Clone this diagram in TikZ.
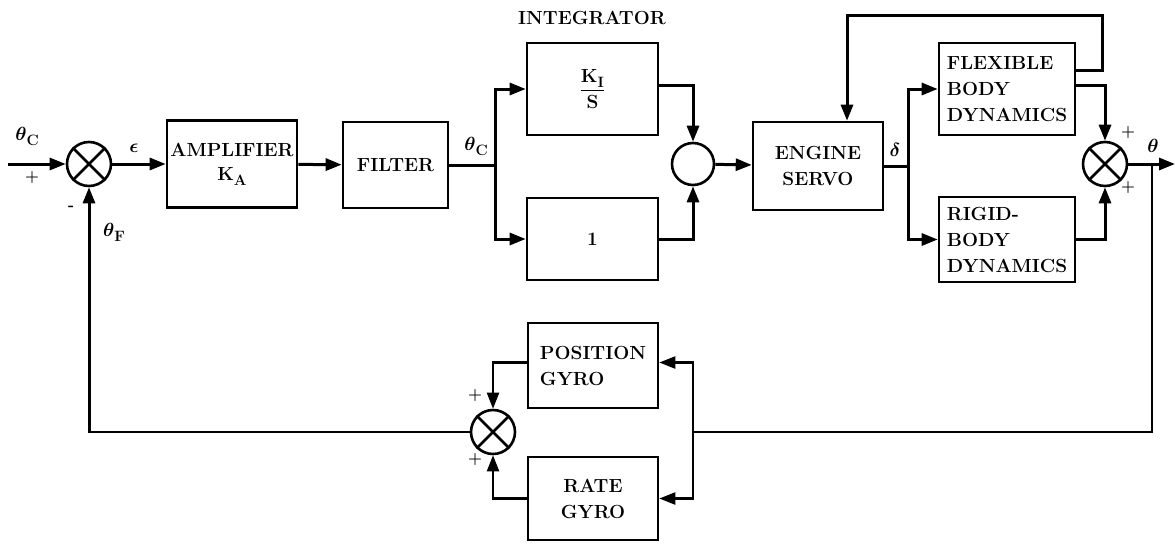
\RequirePackage{fix-cm}
\documentclass[tikz,border=0pt]{standalone}
\usepackage{amsmath}
\usepackage{bm}
\usepackage{fontspec}
\usetikzlibrary{arrows.meta}
\newcommand\blkfont{\fontsize{19}{26}\selectfont\bfseries}
\newcommand\sgnfont{\fontsize{16}{18}\selectfont\bfseries}
\newcommand\subl[1]{\raisebox{-5pt}{\fontsize{15}{15}\selectfont\bfseries #1}}
\begin{document}
\begin{tikzpicture}[x=1pt,y=-1pt,
  blk/.style={draw,line width=2.6pt,inner sep=1pt,font=\blkfont},
  sumj/.style={draw,circle,line width=2.6pt,minimum size=44pt,inner sep=0pt},
  tip/.style={-{Triangle[length=16pt,width=12pt]}},
  main/.style={line width=3pt},
  lite/.style={line width=2.2pt},
  lbl/.style={font=\blkfont,inner sep=0pt},
  sgn/.style={font=\sgnfont,inner sep=0pt}]
\useasboundingbox (0,0) rectangle (1175,544);
% blocks
\node[blk,align=center,minimum width=130pt,minimum height=87pt] (amp) at (232,164) {AMPLIFIER\\[-2pt]K\subl{A}};
\node[blk,align=center,minimum width=105pt,minimum height=86pt] (filt) at (395.5,165) {FILTER};
\node[blk,align=center,minimum width=131pt,minimum height=92pt] (ki) at (592.5,89) {$\dfrac{\text{K\subl{I}}}{\text{S}}$};
\node[blk,align=center,minimum width=131pt,minimum height=82pt] (one) at (592.5,239) {1};
\node[blk,align=center,minimum width=130pt,minimum height=88pt] (eng) at (818,166) {ENGINE\\SERVO};
\node[blk,align=left,minimum width=136pt,minimum height=92pt] (flex) at (1007,89) {FLEXIBLE\\BODY\\DYNAMICS};
\node[blk,align=left,minimum width=136pt,minimum height=85pt] (rigid) at (1007,239.5) {RIGID-\\BODY\\DYNAMICS};
\node[blk,align=left,minimum width=130pt,minimum height=85pt] (pos) at (593,365.5) {POSITION\\GYRO};
\node[blk,align=center,minimum width=130pt,minimum height=83pt] (rate) at (593,498.5) {RATE\\GYRO};
% summing junctions
\node[sumj] (s1) at (89,164) {};
\node[sumj,minimum size=42pt] (s2) at (693,164) {};
\node[sumj] (s3) at (1105,164) {};
\node[sumj] (s4) at (493,432) {};
\foreach \s in {s1,s3,s4}{
  \draw[line width=2.6pt] (\s.45) -- (\s.225) (\s.135) -- (\s.315);}
% coordinates
\coordinate (in) at (8,164);
\coordinate (sp1) at (495,165);
\coordinate (sp2) at (908,166);
\coordinate (fbc) at (1102,15);
\coordinate (br) at (1152,164);
\coordinate (out) at (1175,164);
\coordinate (sp3) at (693,432);
\coordinate (cnr) at (89,432);
% connectors
\draw[main,tip] (in) -- (s1);
\draw[main,tip] (s1) -- (amp);
\draw[main,tip] (amp) -- (filt);
\draw[main] (filt) -- (sp1);
\draw[main,tip] (sp1) |- (ki);
\draw[main,tip] (sp1) |- (one);
\draw[main,tip] ([yshift=4pt]ki.east) -| (s2.north);
\draw[main,tip] (one) -| (s2.south);
\draw[main,tip] (s2) -- (eng);
\draw[main] (eng) -- (sp2);
\draw[main,tip] (sp2) |- (flex);
\draw[main,tip] (sp2) |- (rigid);
\draw[main,tip] ([yshift=4pt]flex.east) -| (s3.north);
\draw[main,tip] ([yshift=19pt]flex.east) -| (fbc) -| ([xshift=29pt]eng.north);
\draw[main,tip] (rigid) -| (s3.south);
\draw[main,tip] (s3) -- (out);
\draw[lite] (br) |- (sp3);
\draw[lite,tip] (sp3) |- ([yshift=3pt]pos.east);
\draw[lite,tip] (sp3) |- (rate.east);
\draw[lite,tip] ([yshift=3pt]pos.west) -| (s4.north);
\draw[lite,tip] (rate.west) -| (s4.south);
\draw[lite] (s4.west) -- ([xshift=-1.5pt]cnr);
\draw[main,tip] (cnr) -- (s1.south);
% labels
\node[lbl] (thc) at (27,136) {$\bm\theta$\subl{C}};
\node[sgn] (p1) at (32,178) {+};
\node[lbl] (eps) at (134,148) {$\bm\epsilon$};
\node[sgn] (m1) at (71,208) {-};
\node[lbl] (thf) at (114,232) {$\bm\theta$\subl{F}};
\node[lbl] (integ) at (592,18) {INTEGRATOR};
\node[lbl] (thc2) at (476,146) {$\bm\theta$\subl{C}};
\node[lbl] (del) at (895,150) {$\bm\delta$};
\node[sgn] (p2) at (1128,133) {+};
\node[sgn] (p3) at (1128,188) {+};
\node[lbl] (th) at (1153,146) {$\bm\theta$};
\node[sgn] (p4) at (475,396) {+};
\node[sgn] (p5) at (475,460) {+};
\end{tikzpicture}
\end{document}
